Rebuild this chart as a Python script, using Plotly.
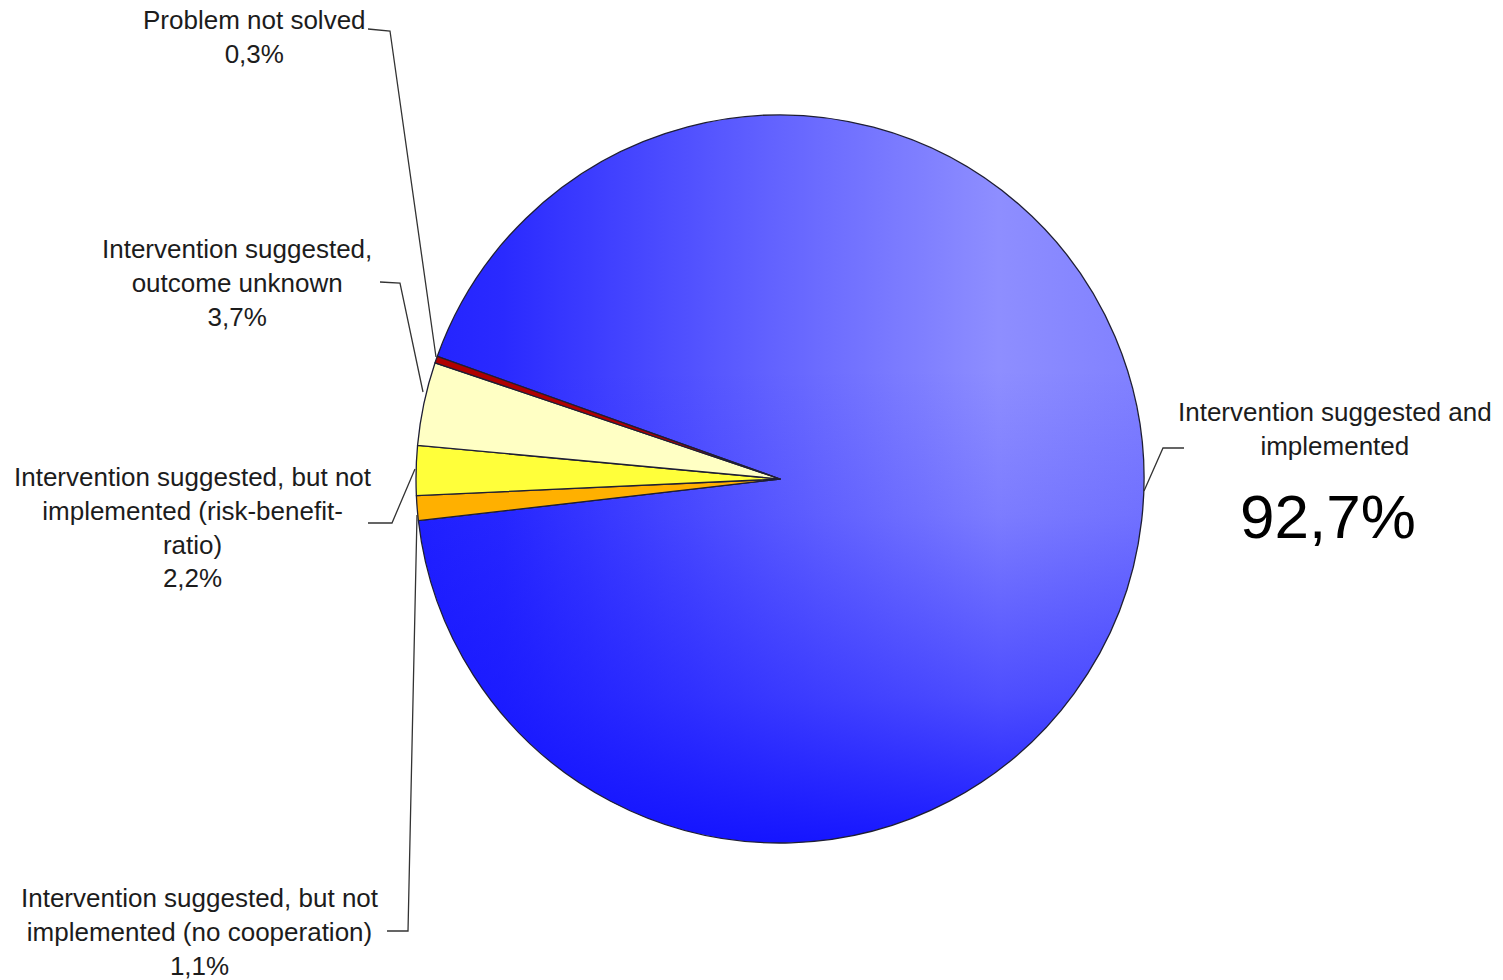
import numpy as np
import plotly.graph_objects as go

# ---- data -------------------------------------------------------------
labels = [
    "Intervention suggested and implemented",
    "Intervention suggested, but not implemented (no cooperation)",
    "Intervention suggested, but not implemented (risk-benefit-ratio)",
    "Intervention suggested, outcome unknown",
    "Problem not solved",
]
shares = [92.7, 1.1, 2.2, 3.7, 0.3]
value_text = ["92,7%", "1,1%", "2,2%", "3,7%", "0,3%"]

# ---- styling ----------------------------------------------------------
slice_colors = ["rgba(0,0,0,0)", "#ffb000", "#ffff3a", "#ffffc4", "#b00000"]
start_angle = 289.7            # clockwise from 12 o'clock
W, H = 1503, 980
cx, cy, r = 780, 479, 364      # pie centre / radius in pixels
dom_x = [(cx - r) / W, (cx + r) / W]
dom_y = [1 - (cy + r) / H, 1 - (cy - r) / H]

FONT = "Liberation Sans, Arial, sans-serif"
TEXT_COL = "#1c1c1c"
EDGE = "#1e1e34"

fig = go.Figure()

# Gradient fill underneath the main (transparent) slice, built from its share
total = sum(shares)
a0 = start_angle
a1 = start_angle + shares[0] / total * 360.0
t = np.radians(np.linspace(a0, a1, 600))
sx = np.concatenate([[0.0], np.sin(t), [0.0]])
sy = np.concatenate([[0.0], np.cos(t), [0.0]])

fig.add_trace(go.Scatter(
    x=sx, y=sy, mode="lines", fill="toself", line=dict(width=0),
    fillgradient=dict(
        type="horizontal", start=-1, stop=1,
        colorscale=[[0.0, "rgb(34,34,255)"], [0.12, "rgb(42,42,255)"],
                    [0.5, "rgb(100,100,255)"], [0.8, "rgb(142,142,255)"],
                    [1.0, "rgb(128,128,255)"]]),
    hoverinfo="skip", showlegend=False))
fig.add_trace(go.Scatter(
    x=sx, y=sy, mode="lines", fill="toself", line=dict(width=0),
    fillgradient=dict(
        type="vertical", start=-1, stop=1,
        colorscale=[[0.0, "rgba(14,14,255,0.92)"], [0.2, "rgba(14,14,255,0.5)"],
                    [0.45, "rgba(14,14,255,0.14)"], [0.65, "rgba(14,14,255,0)"],
                    [1.0, "rgba(14,14,255,0)"]]),
    hoverinfo="skip", showlegend=False))

fig.add_trace(go.Pie(
    labels=labels, values=shares, sort=False, direction="clockwise",
    rotation=start_angle, textinfo="none",
    marker=dict(colors=slice_colors, line=dict(color=EDGE, width=1.3)),
    domain=dict(x=dom_x, y=dom_y), showlegend=False))


def px(x, y):
    return x / W, 1 - y / H


# Label blocks: (text, centre-x px, centre-y px)
small_labels = [
    ("Problem not solved<br>" + value_text[4], 255, 37),
    ("Intervention suggested,<br>outcome unknown<br>" + value_text[3], 237, 283),
    ("Intervention suggested, but not<br>implemented (risk-benefit-<br>ratio)<br>"
     + value_text[2], 193, 527),
    ("Intervention suggested, but not<br>implemented (no cooperation)<br>"
     + value_text[1], 200, 932),
    ("Intervention suggested and<br>implemented", 1335, 429),
]
annotations = []
for txt, x, y in small_labels:
    ax, ay = px(x, y)
    annotations.append(dict(
        text=txt, x=ax, y=ay, xref="paper", yref="paper",
        xanchor="center", yanchor="middle", showarrow=False, align="center",
        font=dict(family=FONT, size=26, color=TEXT_COL)))
bx, by = px(1328, 516)
annotations.append(dict(
    text=value_text[0], x=bx, y=by, xref="paper", yref="paper",
    xanchor="center", yanchor="middle", showarrow=False,
    font=dict(family=FONT, size=62, color="#000000")))

# Leader lines from labels to slices (pixel polylines)
leaders = [
    [(368, 29), (390, 31), (436, 357)],
    [(380, 282), (400, 283), (423, 392)],
    [(368, 523), (392, 523), (415, 469)],
    [(387, 931), (408, 931), (417, 515)],
    [(1184, 448), (1163, 448), (1144, 491)],
]
shapes = []
for pts in leaders:
    p = " L ".join("%.5f %.5f" % px(x, y) for x, y in pts)
    shapes.append(dict(type="path", path="M " + p, xref="paper", yref="paper",
                       line=dict(color="#333333", width=1.3)))

fig.update_layout(
    width=W, height=H, margin=dict(l=0, r=0, t=0, b=0),
    paper_bgcolor="white", plot_bgcolor="rgba(0,0,0,0)",
    xaxis=dict(domain=dom_x, range=[-1, 1], visible=False, fixedrange=True),
    yaxis=dict(domain=dom_y, range=[-1, 1], visible=False, fixedrange=True),
    annotations=annotations, shapes=shapes, showlegend=False,
)

fig.write_html("out.html")
